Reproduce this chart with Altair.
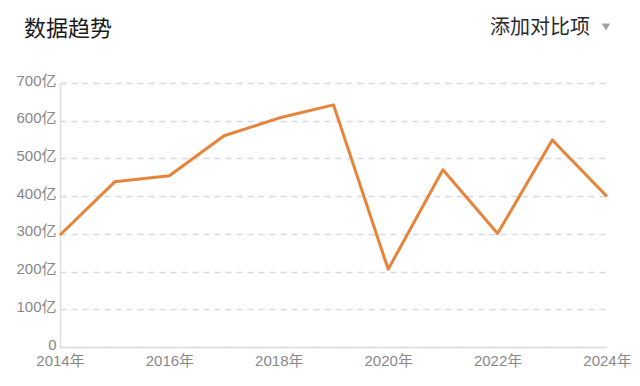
import altair as alt
import pandas as pd

years = [2014, 2015, 2016, 2017, 2018, 2019, 2020, 2021, 2022, 2023, 2024]
values = [297, 438, 454, 560, 607, 642, 206, 470, 301, 549, 399]
title_text = "数据趋势"
compare_text = "添加对比项"

df = pd.DataFrame({"year": years, "value": values})
FONT = "Noto Sans CJK SC"
LFONT = "Liberation Sans, Noto Sans CJK SC"

line = alt.Chart(df).mark_line(color="#E8833A", strokeWidth=3, strokeJoin="round").encode(
    x=alt.X("year:Q",
            scale=alt.Scale(domain=[2014, 2024], nice=False, zero=False),
            axis=alt.Axis(values=[2014, 2016, 2018, 2020, 2022, 2024],
                          labelExpr="datum.value + '年'", title=None, grid=False,
                          ticks=False, domainColor="#dddddd", domainWidth=1.5,
                          labelColor="#888888", labelFontSize=15, labelFont=LFONT,
                          labelPadding=6, labelFlush=False, labelOverlap=False)),
    y=alt.Y("value:Q",
            scale=alt.Scale(domain=[0, 700], nice=False),
            axis=alt.Axis(values=[0, 100, 200, 300, 400, 500, 600, 700],
                          labelExpr="datum.value == 0 ? '0' : datum.value + '亿'",
                          title=None, grid=True, gridDash=[6, 5], gridColor="#d8d9e6",
                          gridWidth=1.3, ticks=False, domainColor="#dddddd", domainWidth=1.5,
                          labelColor="#888888", labelFontSize=15, labelFont=LFONT,
                          labelPadding=4, labelOffset=-3)),
)

title = alt.Chart(pd.DataFrame({"t": [title_text]})).mark_text(
    align="left", baseline="middle", fontSize=22, font=FONT, color="#1a1a1a"
).encode(x=alt.value(-36), y=alt.value(-54), text="t:N")

compare = alt.Chart(pd.DataFrame({"t": [compare_text]})).mark_text(
    align="right", baseline="middle", fontSize=20, font=FONT, color="#2a2a2a"
).encode(x=alt.value(530), y=alt.value(-55), text="t:N")

tri = alt.Chart(pd.DataFrame({"a": [1]})).mark_point(
    shape="triangle-down", filled=True, color="#a0a0a0", size=70, opacity=1
).encode(x=alt.value(546), y=alt.value(-56))

chart = alt.layer(line, title, compare, tri).properties(
    width=547, height=264,
    padding={"left": 52, "top": 75, "right": 25, "bottom": 31},
    autosize="none",
    background="white",
).configure_view(strokeOpacity=0)

chart.save("out.html", embed_options={"renderer": "svg", "actions": False})
